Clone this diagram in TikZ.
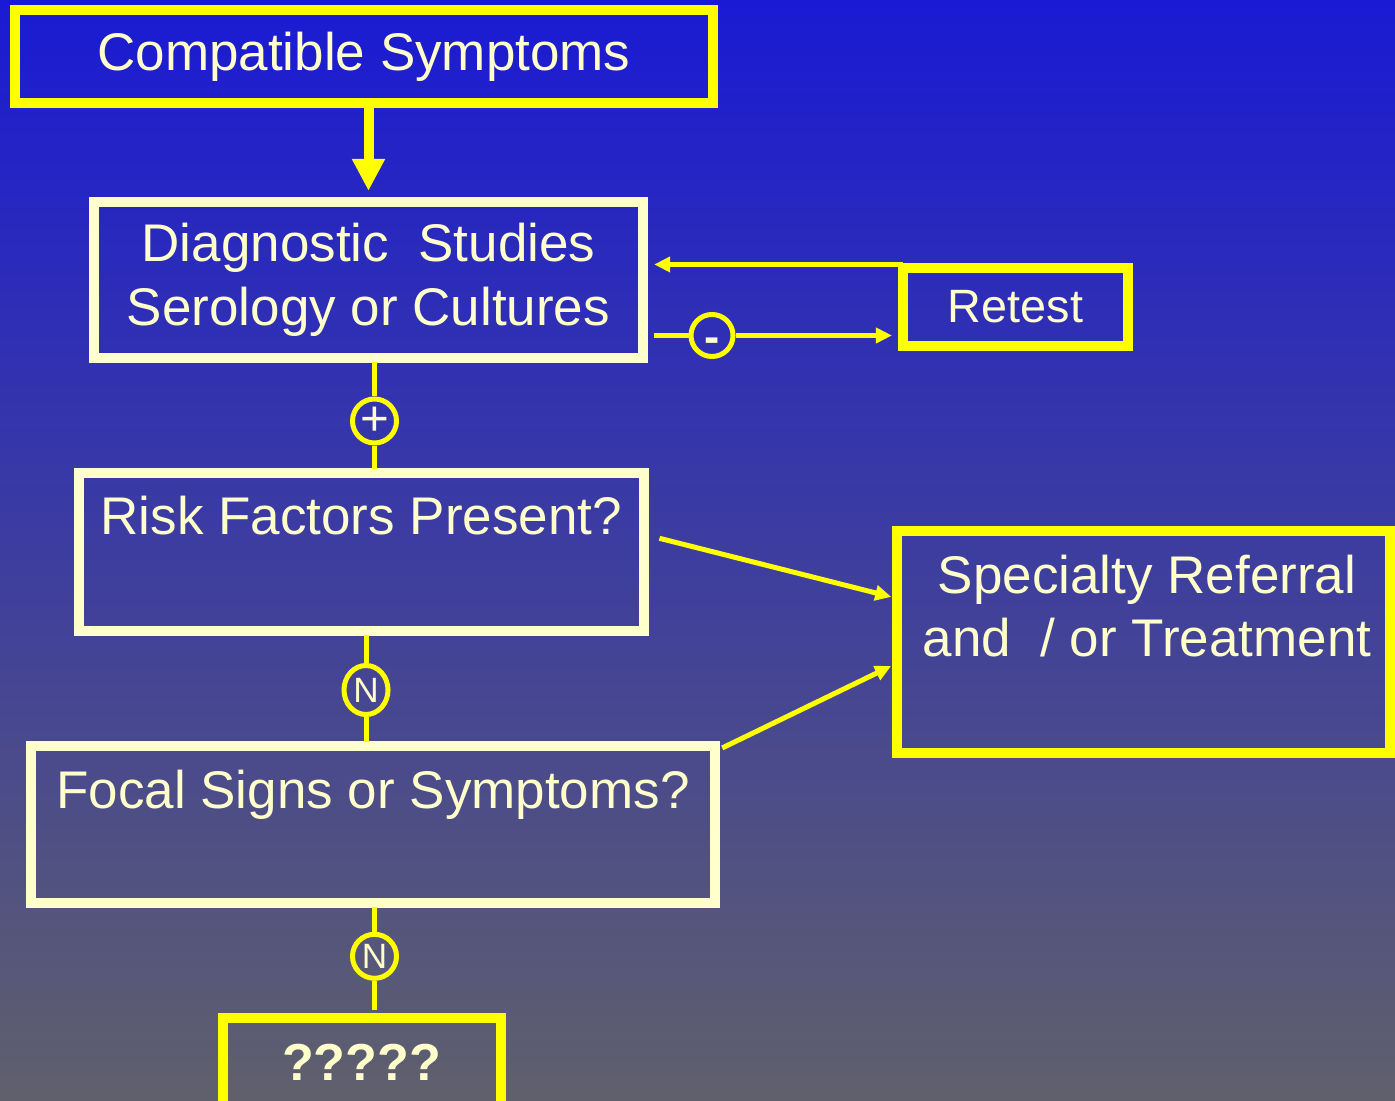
\documentclass[tikz,border=0pt]{standalone}
\usepackage{fontspec}
\setmainfont{Liberation Sans}
\usetikzlibrary{arrows.meta,shapes.geometric}
\definecolor{bgtop}{RGB}{26,26,212}
\definecolor{bgmid}{RGB}{68,68,162}
\definecolor{bgbot}{RGB}{96,96,108}
\definecolor{cream}{RGB}{255,255,204}
\definecolor{sign}{RGB}{255,255,0}
\begin{document}
\begin{tikzpicture}[x=0.01cm,y=-0.01cm,
	ybox/.style={draw=sign,line width=0.1cm,inner sep=0pt,outer sep=0pt},
	cbox/.style={draw=cream,line width=0.1cm,inner sep=0pt,outer sep=0pt},
	txt/.style={text=cream,font=\fontsize{15.07}{18.04}\selectfont,align=center,inner sep=0pt},
	tag/.style={draw=sign,line width=0.05cm,text=cream,inner sep=0pt},
	link/.style={draw=sign,line width=0.05cm},
	arr/.style={link,-{Triangle[length=0.16cm,width=0.15cm]}},
	bigarr/.style={draw=sign,line width=0.1cm,-{Triangle[length=0.32cm,width=0.31cm]}}]
	\useasboundingbox (0,0) rectangle (1395,1101);
	\shade[top color=bgtop,middle color=bgmid,bottom color=bgbot] (0,0) rectangle (1395,1101);
	\node[ybox,txt,minimum width=6.98cm,minimum height=0.93cm] (comp) at (364,56.5) {Compatible Symptoms};
	\node[cbox,txt,minimum width=5.48cm,minimum height=1.56cm] (diag) at (368.5,280) {Diagnostic\ \ Studies\\Serology or Cultures};
	\node[ybox,txt,font=\fontsize{13.3}{16}\selectfont,minimum width=2.24cm,minimum height=0.775cm] (retest) at (1015.5,306.75) {Retest};
	\node[cbox,minimum width=5.64cm,minimum height=1.58cm] (risk) at (361.5,552) {};
	\node[txt,anchor=base] (risktxt) at (361.3,534.5) {Risk Factors Present?};
	\node[cbox,minimum width=6.84cm,minimum height=1.57cm] (focal) at (373,824.5) {};
	\node[txt,anchor=base] (focaltxt) at (373,808.3) {Focal Signs or Symptoms?};
	\node[ybox,minimum width=4.93cm,minimum height=2.22cm] (spec) at (1143.5,642) {};
	\node[txt] (spectxt) at (1147,606) {Specialty Referral\\and\ \ / or Treatment};
	\node[ybox,minimum width=2.78cm,minimum height=1.04cm] (qbox) at (362,1070) {};
	\node[txt,font=\fontsize{14.8}{18}\selectfont\bfseries,anchor=base] (qtxt) at (361.5,1080) {?????};
	\node[tag,circle,minimum size=0.44cm,font=\fontsize{14}{14}\selectfont] (pos) at (374.5,421) {+};
	\node[tag,circle,minimum size=0.42cm,text height=0.33cm,text depth=0pt,font=\fontsize{13}{13}\selectfont\bfseries] (neg) at (712,335.5) {-};
	\node[tag,ellipse,minimum width=0.44cm,minimum height=0.49cm,font=\fontsize{10}{10}\selectfont] (no1) at (366,690) {N};
	\node[tag,circle,minimum size=0.44cm,font=\fontsize{10}{10}\selectfont] (no2) at (374.5,956.3) {N};
	\coordinate (back) at ([yshift=0.035cm]retest.north west);
	\draw[bigarr,shorten >=0.11cm] (comp.south -| diag.north) -- (diag.north);
	\draw[link,shorten <=0.04cm] (diag.south -| pos) -- (pos);
	\draw[link,shorten >=0.04cm] (pos) -- (pos |- risk.north);
	\draw[link,shorten <=0.04cm] (risk.south -| no1) -- (no1);
	\draw[link,shorten >=0.04cm] (no1) -- (no1 |- focal.north);
	\draw[link,shorten <=0.04cm] (focal.south -| no2) -- (no2);
	\draw[link,shorten >=0.08cm] (no2) -- (no2 |- qbox.north);
	\draw[link,shorten <=0.11cm] (diag.east |- neg) -- (neg);
	\draw[arr,shorten >=0.115cm] (neg) -- (retest.west |- neg);
	\draw[arr,shorten >=0.115cm] (back) -- (diag.east |- back);
	\draw[arr,shorten >=0.058cm] ([xshift=0.158cm,yshift=0.137cm]risk.east) -- ([yshift=0.437cm]spec.west);
	\draw[arr,shorten >=0.064cm] ([xshift=0.07cm,yshift=-0.02cm]focal.north east) -- ([yshift=-0.213cm]spec.west);
\end{tikzpicture}
\end{document}
